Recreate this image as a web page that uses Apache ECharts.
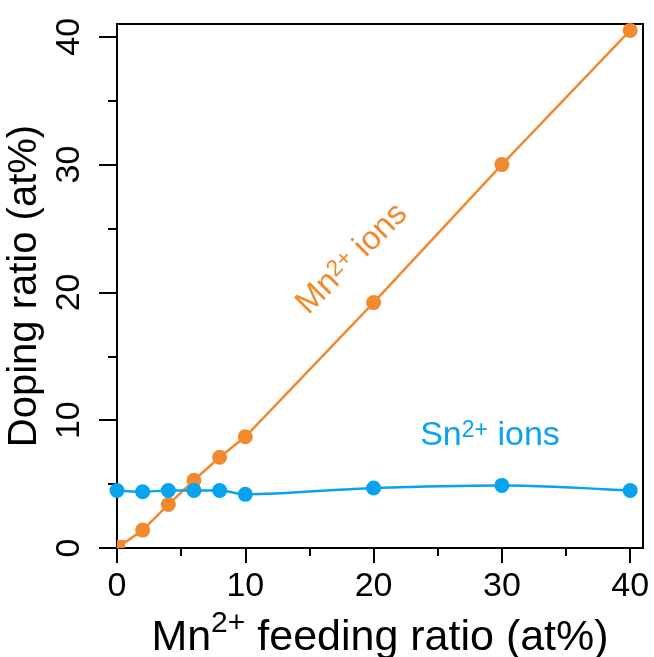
<!DOCTYPE html>
<html>
<head>
<meta charset="utf-8">
<script src="https://cdn.jsdelivr.net/npm/echarts@6/dist/echarts.min.js"></script>
<style>html,body{margin:0;padding:0;background:#fff}#c{width:654px;height:657px}</style>
</head>
<body>
<div id="c"></div>
<script>
var feeding = [0, 2, 4, 6, 8, 10, 20, 30, 40];
var mnDoping = [0, 1.4, 3.4, 5.3, 7.1, 8.7, 19.2, 30.0, 40.5];
var snDoping = [4.5, 4.4, 4.5, 4.5, 4.5, 4.2, 4.7, 4.9, 4.5];
var majorTicks = [0, 10, 20, 30, 40];
var minorTicks = [5, 15, 25, 35];

var ORANGE = '#F18A2E', BLUE = '#08A3EF';
var FONT = 'Liberation Sans, Arial, sans-serif';

function pairs(xs, ys) { return xs.map(function (x, i) { return [x, ys[i]]; }); }

var mnData = pairs(feeding, mnDoping).map(function (p, i) {
  if (i === 0) return { value: p, symbol: 'rect', symbolSize: 8, symbolOffset: [4, -4] };
  return p;
});

var chart = echarts.init(document.getElementById('c'), null, { renderer: 'canvas' });
var labelStyle = { color: '#000', fontSize: 34, fontFamily: FONT };
chart.setOption({
  animation: false,
  backgroundColor: '#fff',
  grid: { left: 117, right: 11, top: 24, bottom: 109, containLabel: false, outerBoundsMode: 'none',
          show: true, borderColor: '#000', borderWidth: 2, backgroundColor: 'transparent' },
  xAxis: [{
    type: 'value', min: 0, max: 41, position: 'bottom',
    axisLine: { show: true, onZero: false, lineStyle: { color: '#000', width: 2 } },
    axisTick: { show: true, inside: false, length: 15, customValues: majorTicks, lineStyle: { color: '#000', width: 2 } },
    axisLabel: Object.assign({ margin: 22, customValues: majorTicks }, labelStyle),
    splitLine: { show: false },
    name: '{a|Mn}{s|2+}{a| feeding ratio (at%)}',
    nameLocation: 'middle', nameGap: 46,
    nameTextStyle: { rich: {
      a: { fontSize: 43, fontFamily: FONT, color: '#000', verticalAlign: 'bottom' },
      s: { fontSize: 30, lineHeight: 51, fontFamily: FONT, color: '#000', verticalAlign: 'top' }
    } }
  }, {
    type: 'value', min: 0, max: 41, position: 'bottom',
    axisLine: { show: false },
    axisTick: { show: true, inside: false, length: 8, customValues: minorTicks, lineStyle: { color: '#000', width: 2 } },
    axisLabel: { show: false },
    splitLine: { show: false }
  }],
  yAxis: [{
    type: 'value', min: 0, max: 41, position: 'left',
    axisLine: { show: true, onZero: false, lineStyle: { color: '#000', width: 2 } },
    axisTick: { show: true, inside: false, length: 18, customValues: majorTicks, lineStyle: { color: '#000', width: 2 } },
    axisLabel: Object.assign({ margin: 30, rotate: 90, customValues: majorTicks }, labelStyle),
    splitLine: { show: false },
    name: 'Doping ratio (at%)', nameLocation: 'middle', nameGap: 57, nameRotate: 90,
    nameTextStyle: { fontSize: 40, fontFamily: FONT, color: '#000' }
  }, {
    type: 'value', min: 0, max: 41, position: 'left',
    axisLine: { show: false },
    axisTick: { show: true, inside: false, length: 9, customValues: minorTicks, lineStyle: { color: '#000', width: 2 } },
    axisLabel: { show: false },
    splitLine: { show: false }
  }],
  series: [{
    type: 'line', name: 'Mn', data: mnData, xAxisIndex: 0, yAxisIndex: 0,
    symbol: 'circle', symbolSize: 15, clip: false,
    lineStyle: { color: ORANGE, width: 2.5 }, itemStyle: { color: ORANGE }
  }, {
    type: 'line', name: 'Sn', data: pairs(feeding, snDoping), xAxisIndex: 0, yAxisIndex: 0,
    symbol: 'circle', symbolSize: 15, smooth: 0.3, clip: false,
    lineStyle: { color: BLUE, width: 2.5 }, itemStyle: { color: BLUE }
  }],
  graphic: [{
    type: 'text', x: 352, y: 259, rotation: Math.PI / 4,
    style: {
      text: '{a|Mn}{s|2+}{a| ions}', align: 'center', verticalAlign: 'middle',
      rich: {
        a: { fontSize: 33, fontFamily: FONT, fill: ORANGE, verticalAlign: 'bottom' },
        s: { fontSize: 23, fontFamily: FONT, fill: ORANGE, verticalAlign: 'top' }
      }
    }
  }, {
    type: 'text', x: 490, y: 436,
    style: {
      text: '{a|Sn}{s|2+}{a| ions}', align: 'center', verticalAlign: 'middle',
      rich: {
        a: { fontSize: 34, fontFamily: FONT, fill: BLUE, verticalAlign: 'bottom' },
        s: { fontSize: 23, fontFamily: FONT, fill: BLUE, verticalAlign: 'top' }
      }
    }
  }]
});
</script>
</body>
</html>
